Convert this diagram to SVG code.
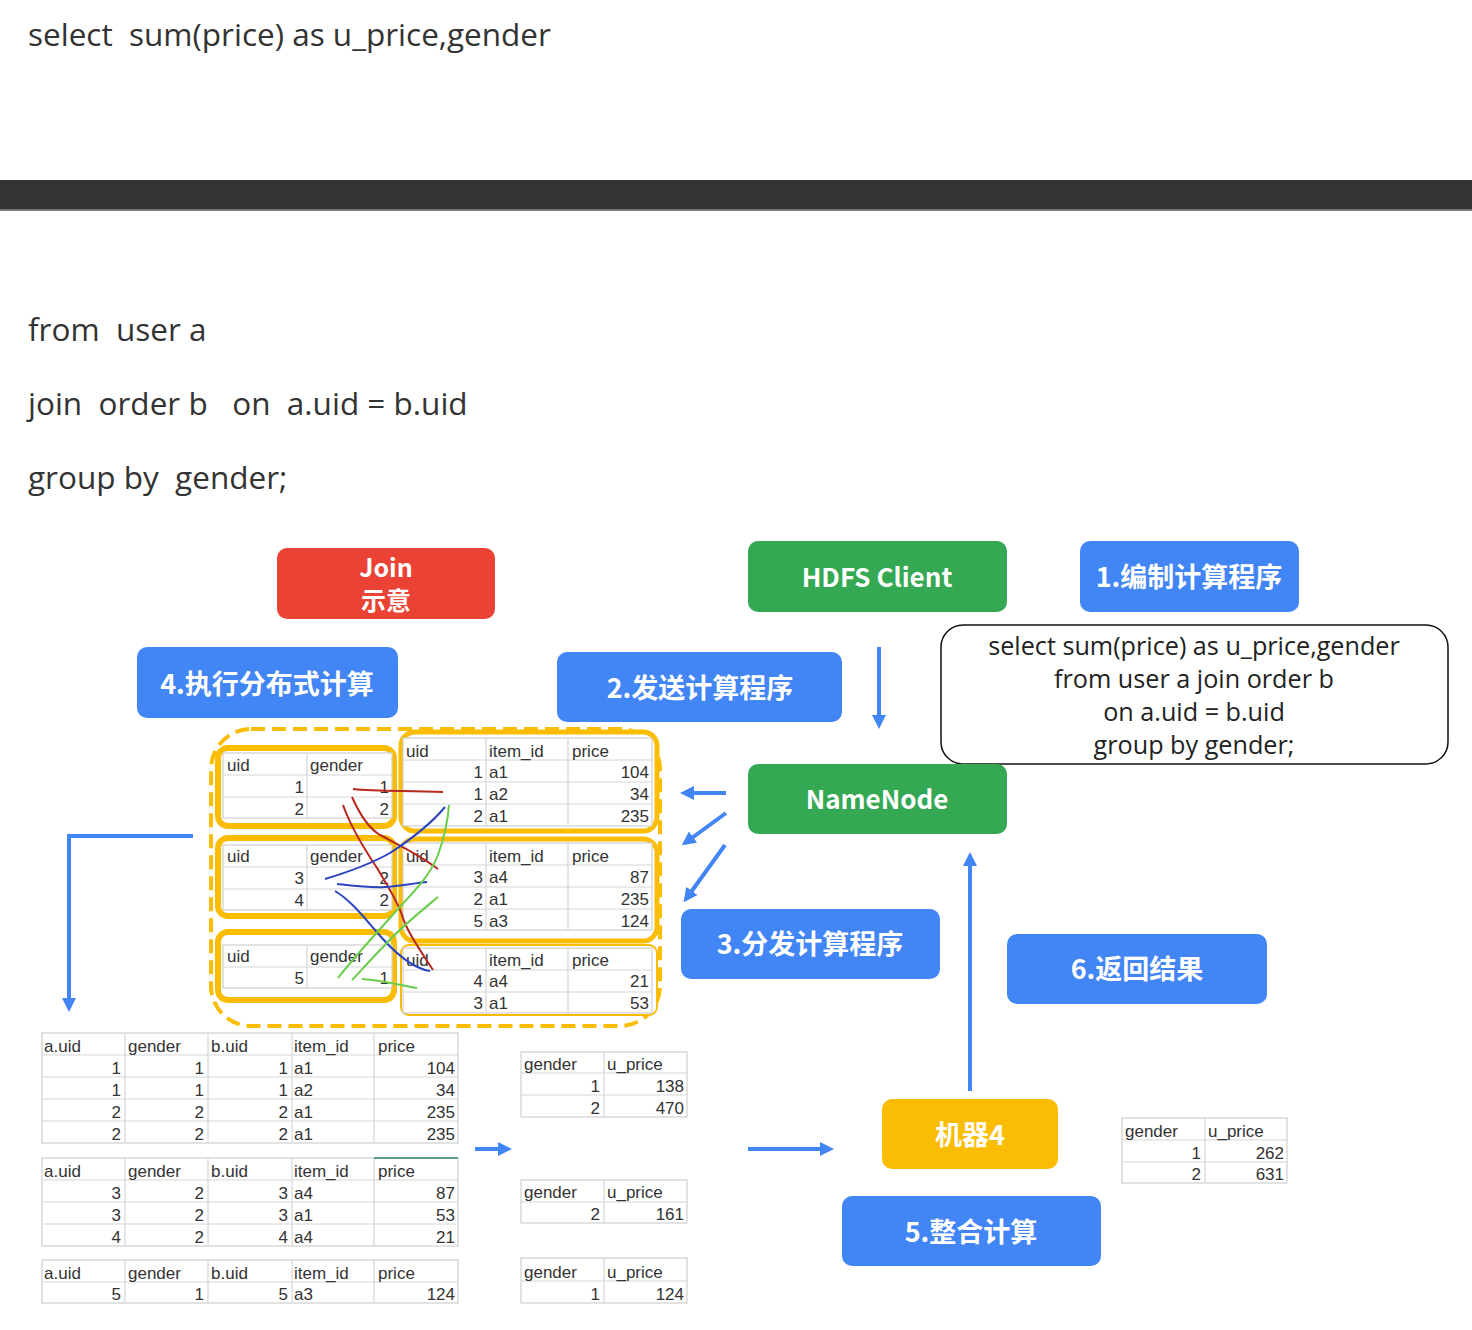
<svg xmlns="http://www.w3.org/2000/svg" width="1472" height="1330" viewBox="0 0 1472 1330">
<style>
.hd{font-family:"Open Sans","Noto Sans",sans-serif;font-size:31.5px;fill:#333;white-space:pre}
.bb{fill:#4285F4}
.bg{fill:#34A853}
.br{fill:#EA4335}
.by{fill:#FBBC04}
.lbl{font-family:"Noto Sans CJK SC",sans-serif;font-weight:bold;fill:#fff;font-size:27px;text-anchor:middle}
.sql{font-family:"Open Sans","Noto Sans",sans-serif;font-size:25.2px;fill:#222;text-anchor:middle}
.tb rect{fill:#fff;stroke:#cfcfcf;stroke-width:1.2}
.tb path{stroke:#d6d6d6;stroke-width:1.2;fill:none}
.tb text{font-family:"Liberation Sans","Noto Sans CJK SC",sans-serif;font-size:17px;fill:#333}
.tb .n{text-anchor:end}
.yb{fill:#fff;stroke:#FBBC04;stroke-width:6}
.yo{fill:#fff;stroke:#FBBC04;stroke-width:5}
.arr{stroke:#4285F4;stroke-width:4;fill:none;marker-end:url(#ah)}
.hr{stroke:#b8281c;stroke-width:2;fill:none}
.hbl{stroke:#2a44c0;stroke-width:2;fill:none}
.hg{stroke:#6acd4a;stroke-width:2;fill:none}
</style>
<defs>
<marker id="ah" markerUnits="userSpaceOnUse" markerWidth="14" markerHeight="14" viewBox="0 0 14 14" refX="10" refY="7" orient="auto">
<path d="M0,0 L14,7 L0,14 z" fill="#4285F4"/>
</marker>
</defs>
<rect width="1472" height="1330" fill="#fff"/>
<g id="heading">
<text class="hd" x="28" y="46">select  sum(price) as u_price,gender</text>
<rect x="0" y="180" width="1472" height="30" fill="#333"/>
<rect x="0" y="209" width="1472" height="2" fill="#777"/>
<text class="hd" x="28" y="341">from  user a</text>
<text class="hd" x="28" y="415">join  order b   on  a.uid = b.uid</text>
<text class="hd" x="28" y="489">group by  gender;</text>
</g>
<g id="join-label"><rect class="br" x="277" y="548" width="218" height="71" rx="10"/><text class="lbl" style="font-size:25px" x="386" y="577">Join</text><text class="lbl" style="font-size:25px" x="386" y="610">示意</text></g>
<g id="hdfs-client"><rect class="bg" x="748" y="541" width="259" height="71" rx="10"/><text class="lbl" style="font-size:26px" x="877" y="587">HDFS Client</text></g>
<g id="step1"><rect class="bb" x="1080" y="541" width="219" height="71" rx="10"/><text class="lbl" x="1189" y="587">1.编制计算程序</text></g>
<g id="step4"><rect class="bb" x="137" y="647" width="261" height="71" rx="10"/><text class="lbl" x="267" y="694">4.执行分布式计算</text></g>
<g id="step2"><rect class="bb" x="557" y="652" width="285" height="70" rx="10"/><text class="lbl" x="700" y="698">2.发送计算程序</text></g>
<g id="sql-box"><rect x="941" y="625" width="507" height="139" rx="22" fill="#fff" stroke="#111" stroke-width="1.5"/>
<text class="sql" x="1194" y="655">select sum(price) as u_price,gender</text>
<text class="sql" x="1194" y="688">from user a join order b</text>
<text class="sql" x="1194" y="721">on a.uid = b.uid</text>
<text class="sql" x="1194" y="754">group by gender;</text></g>
<g id="namenode"><rect class="bg" x="748" y="764" width="259" height="70" rx="10"/><text class="lbl" style="font-size:26px" x="877" y="809">NameNode</text></g>
<g id="step3"><rect class="bb" x="681" y="909" width="259" height="70" rx="10"/><text class="lbl" x="810" y="954">3.分发计算程序</text></g>
<g id="step6"><rect class="bb" x="1007" y="934" width="260" height="70" rx="10"/><text class="lbl" x="1137" y="979">6.返回结果</text></g>
<g id="machine4"><rect class="by" x="882" y="1099" width="176" height="70" rx="10"/><text class="lbl" x="970" y="1145">机器4</text></g>
<g id="step5"><rect class="bb" x="842" y="1196" width="259" height="70" rx="10"/><text class="lbl" x="971" y="1242">5.整合计算</text></g>

<g id="join-area">
<rect x="211" y="729" width="449" height="297" rx="40" fill="none" stroke="#FBBC04" stroke-width="4" stroke-dasharray="14 7"/>
<rect class="yb" x="218" y="748" width="176" height="78" rx="10"/>
<rect class="yb" x="218" y="838" width="176" height="78" rx="10"/>
<rect class="yb" x="218" y="932" width="176" height="68" rx="10"/>
<rect class="yo" x="401" y="732" width="256" height="99" rx="14"/>
<rect class="yo" x="401" y="839" width="256" height="102" rx="14"/>
<rect x="401" y="945" width="256" height="70" rx="8" fill="#fff" stroke="#FBBC04" stroke-width="2"/>
<g class="tb" id="user-t1"><rect x="223" y="753" width="169" height="65"/><path d="M223,775H392M223,797H392M307,753V818"/>
<text x="227" y="771">uid</text><text x="310" y="771">gender</text>
<text class="n" x="304" y="793">1</text><text class="n" x="389" y="793">1</text>
<text class="n" x="304" y="815">2</text><text class="n" x="389" y="815">2</text></g>
<g class="tb" id="user-t2"><rect x="223" y="845" width="169" height="65"/><path d="M223,867H392M223,889H392M307,845V910"/>
<text x="227" y="862">uid</text><text x="310" y="862">gender</text>
<text class="n" x="304" y="884">3</text><text class="n" x="389" y="884">2</text>
<text class="n" x="304" y="906">4</text><text class="n" x="389" y="906">2</text></g>
<g class="tb" id="user-t3"><rect x="223" y="945" width="169" height="43"/><path d="M223,967H392M307,945V988"/>
<text x="227" y="962">uid</text><text x="310" y="962">gender</text>
<text class="n" x="304" y="984">5</text><text class="n" x="389" y="984">1</text></g>
<g class="tb" id="order-t1"><rect x="403" y="738" width="249" height="88"/><path d="M403,760H652M403,782H652M403,804H652M486,738V826M568,738V826"/>
<text x="406" y="757">uid</text><text x="489" y="757">item_id</text><text x="572" y="757">price</text>
<text class="n" x="483" y="778">1</text><text x="489" y="778">a1</text><text class="n" x="649" y="778">104</text>
<text class="n" x="483" y="800">1</text><text x="489" y="800">a2</text><text class="n" x="649" y="800">34</text>
<text class="n" x="483" y="822">2</text><text x="489" y="822">a1</text><text class="n" x="649" y="822">235</text></g>
<g class="tb" id="order-t2"><rect x="403" y="843" width="249" height="87"/><path d="M403,865H652M403,887H652M403,909H652M486,843V930M568,843V930"/>
<text x="406" y="862">uid</text><text x="489" y="862">item_id</text><text x="572" y="862">price</text>
<text class="n" x="483" y="883">3</text><text x="489" y="883">a4</text><text class="n" x="649" y="883">87</text>
<text class="n" x="483" y="905">2</text><text x="489" y="905">a1</text><text class="n" x="649" y="905">235</text>
<text class="n" x="483" y="927">5</text><text x="489" y="927">a3</text><text class="n" x="649" y="927">124</text></g>
<g class="tb" id="order-t3"><rect x="403" y="948" width="249" height="65"/><path d="M403,970H652M403,992H652M486,948V1013M568,948V1013"/>
<text x="406" y="966">uid</text><text x="489" y="966">item_id</text><text x="572" y="966">price</text>
<text class="n" x="483" y="987">4</text><text x="489" y="987">a4</text><text class="n" x="649" y="987">21</text>
<text class="n" x="483" y="1009">3</text><text x="489" y="1009">a1</text><text class="n" x="649" y="1009">53</text></g>
<g id="hand-lines">
<path class="hr" d="M353,789 C380,792 410,790 443,792"/>
<path class="hr" d="M352,797 C360,815 368,828 380,835 C395,843 420,855 438,869"/>
<path class="hr" d="M343,805 C350,825 365,850 377,868 C387,885 397,900 402,915 C406,930 420,950 433,970"/>
<path class="hbl" d="M325,879 C345,873 367,866 390,853 C413,838 430,825 445,807"/>
<path class="hbl" d="M337,884 C355,886 370,888 385,887 C400,886 415,883 427,882"/>
<path class="hbl" d="M335,891 C350,900 362,915 375,930 C390,948 410,968 430,971"/>
<path class="hg" d="M449,805 C448,820 445,835 438,855 C428,880 410,895 390,918 C370,940 352,960 338,978"/>
<path class="hg" d="M438,897 C420,912 400,928 385,945 C370,960 360,972 352,980"/>
<path class="hg" d="M362,979 C380,980 395,984 417,988"/>
</g>
</g>

<g class="tb" id="joined-t1"><rect x="42" y="1033" width="416" height="110"/><path d="M42,1055H458M42,1077H458M42,1099H458M42,1121H458M125,1033V1143M208,1033V1143M292,1033V1143M374,1033V1143"/>
<text x="44" y="1052">a.uid</text><text x="128" y="1052">gender</text><text x="211" y="1052">b.uid</text><text x="294" y="1052">item_id</text><text x="378" y="1052">price</text>
<text class="n" x="121" y="1074">1</text><text class="n" x="204" y="1074">1</text><text class="n" x="288" y="1074">1</text><text x="294" y="1074">a1</text><text class="n" x="455" y="1074">104</text>
<text class="n" x="121" y="1096">1</text><text class="n" x="204" y="1096">1</text><text class="n" x="288" y="1096">1</text><text x="294" y="1096">a2</text><text class="n" x="455" y="1096">34</text>
<text class="n" x="121" y="1118">2</text><text class="n" x="204" y="1118">2</text><text class="n" x="288" y="1118">2</text><text x="294" y="1118">a1</text><text class="n" x="455" y="1118">235</text>
<text class="n" x="121" y="1140">2</text><text class="n" x="204" y="1140">2</text><text class="n" x="288" y="1140">2</text><text x="294" y="1140">a1</text><text class="n" x="455" y="1140">235</text></g>
<g class="tb" id="joined-t2"><rect x="42" y="1158" width="416" height="88"/><path d="M42,1180H458M42,1202H458M42,1224H458M125,1158V1246M208,1158V1246M292,1158V1246M374,1158V1246"/>
<path d="M374,1158H458" style="stroke:#5f9e80;stroke-width:2"/>
<text x="44" y="1177">a.uid</text><text x="128" y="1177">gender</text><text x="211" y="1177">b.uid</text><text x="294" y="1177">item_id</text><text x="378" y="1177">price</text>
<text class="n" x="121" y="1199">3</text><text class="n" x="204" y="1199">2</text><text class="n" x="288" y="1199">3</text><text x="294" y="1199">a4</text><text class="n" x="455" y="1199">87</text>
<text class="n" x="121" y="1221">3</text><text class="n" x="204" y="1221">2</text><text class="n" x="288" y="1221">3</text><text x="294" y="1221">a1</text><text class="n" x="455" y="1221">53</text>
<text class="n" x="121" y="1243">4</text><text class="n" x="204" y="1243">2</text><text class="n" x="288" y="1243">4</text><text x="294" y="1243">a4</text><text class="n" x="455" y="1243">21</text></g>
<g class="tb" id="joined-t3"><rect x="42" y="1260" width="416" height="43"/><path d="M42,1282H458M125,1260V1303M208,1260V1303M292,1260V1303M374,1260V1303"/>
<text x="44" y="1279">a.uid</text><text x="128" y="1279">gender</text><text x="211" y="1279">b.uid</text><text x="294" y="1279">item_id</text><text x="378" y="1279">price</text>
<text class="n" x="121" y="1300">5</text><text class="n" x="204" y="1300">1</text><text class="n" x="288" y="1300">5</text><text x="294" y="1300">a3</text><text class="n" x="455" y="1300">124</text></g>

<g class="tb" id="sum-t1"><rect x="521" y="1052" width="166" height="65"/><path d="M521,1073H687M521,1095H687M604,1052V1117"/>
<text x="524" y="1070">gender</text><text x="607" y="1070">u_price</text>
<text class="n" x="600" y="1092">1</text><text class="n" x="684" y="1092">138</text>
<text class="n" x="600" y="1114">2</text><text class="n" x="684" y="1114">470</text></g>
<g class="tb" id="sum-t2"><rect x="521" y="1180" width="166" height="43"/><path d="M521,1202H687M604,1180V1223"/>
<text x="524" y="1198">gender</text><text x="607" y="1198">u_price</text>
<text class="n" x="600" y="1220">2</text><text class="n" x="684" y="1220">161</text></g>
<g class="tb" id="sum-t3"><rect x="521" y="1258" width="166" height="45"/><path d="M521,1281H687M604,1258V1303"/>
<text x="524" y="1278">gender</text><text x="607" y="1278">u_price</text>
<text class="n" x="600" y="1300">1</text><text class="n" x="684" y="1300">124</text></g>
<g class="tb" id="final-t"><rect x="1122" y="1118" width="165" height="65"/><path d="M1122,1140H1287M1122,1162H1287M1205,1118V1183"/>
<text x="1125" y="1137">gender</text><text x="1208" y="1137">u_price</text>
<text class="n" x="1201" y="1159">1</text><text class="n" x="1284" y="1159">262</text>
<text class="n" x="1201" y="1180">2</text><text class="n" x="1284" y="1180">631</text></g>

<g id="connectors">
<path class="arr" d="M879,647 V725"/>
<path class="arr" d="M726,793 H684"/>
<path class="arr" d="M726,813 L685,843"/>
<path class="arr" d="M725,845 L686,899"/>
<path class="arr" d="M970,1091 V856"/>
<path class="arr" d="M193,836 H69 V1008"/>
<path class="arr" d="M475,1149 H508"/>
<path class="arr" d="M748,1149 H830"/>
</g>
</svg>
